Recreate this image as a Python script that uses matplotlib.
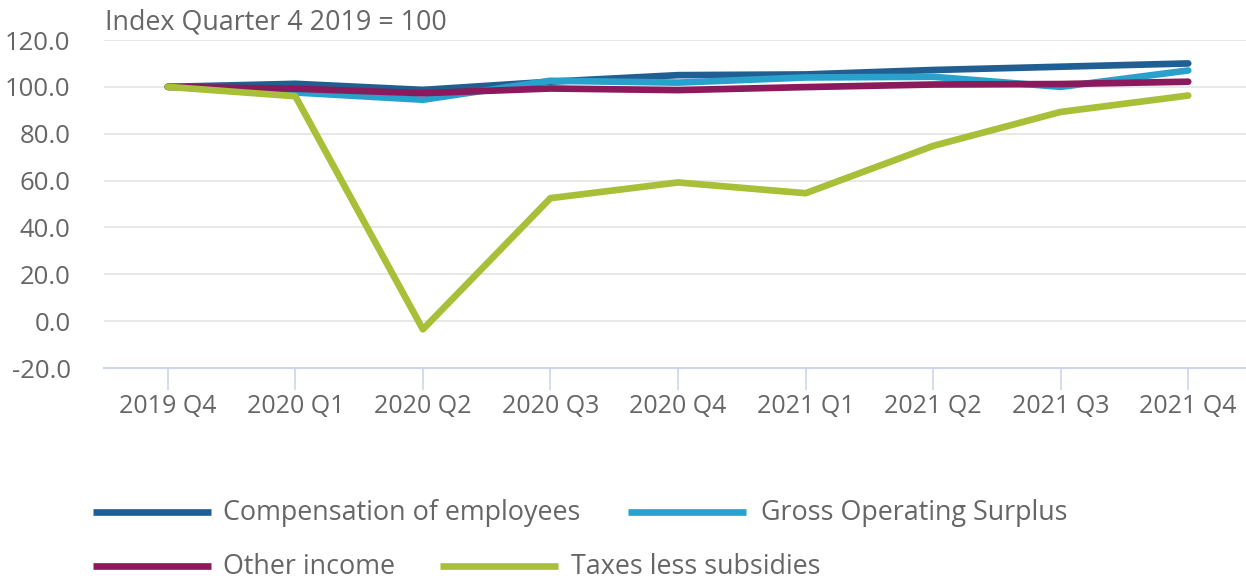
import matplotlib.pyplot as plt
from matplotlib.lines import Line2D

quarters = ['2019 Q4', '2020 Q1', '2020 Q2', '2020 Q3', '2020 Q4',
            '2021 Q1', '2021 Q2', '2021 Q3', '2021 Q4']
compensation = [100.0, 101.3, 98.7, 102.2, 105.0, 105.3, 107.2, 108.6, 110.0]
gross_surplus = [100.0, 97.6, 94.5, 102.6, 101.8, 104.0, 104.3, 100.0, 107.0]
other_income = [100.0, 99.2, 97.3, 99.3, 98.6, 99.9, 101.0, 101.2, 102.2]
taxes = [100.0, 96.0, -3.5, 52.5, 59.2, 54.6, 74.8, 89.3, 96.3]

labels = ['Compensation of employees', 'Gross Operating Surplus',
          'Other income', 'Taxes less subsidies']
series = [compensation, gross_surplus, other_income, taxes]
colors = ['#215f93', '#29a1cd', '#8a1a5b', '#a8bf38']

plt.rcParams['font.family'] = ['Open Sans', 'DejaVu Sans']
txt = '#666666'

W, H = 1246, 579
fig = plt.figure(figsize=(W / 100, H / 100), dpi=100)
ax = fig.add_axes([104 / W, (H - 368) / H, (1252 - 104) / W, (368 - 40) / H])

x = range(len(quarters))
for vals, c in zip(series, colors):
    ax.plot(x, vals, color=c, lw=4.8, solid_capstyle='round', solid_joinstyle='round')

ax.set_xlim(-0.5, 8.5)
ax.set_ylim(-20, 120)
ax.set_yticks(range(-20, 121, 20))
ax.set_yticklabels([f'{v:.1f}' for v in range(-20, 121, 20)])
ax.set_xticks(list(x))
ax.set_xticklabels(quarters)
ax.grid(axis='y', color='#e6e6e6', lw=1.3)
ax.set_axisbelow(True)
for s in ['top', 'right', 'left']:
    ax.spines[s].set_visible(False)
ax.spines['bottom'].set_color('#ccd6eb')
ax.spines['bottom'].set_linewidth(1.5)
ax.tick_params(axis='y', length=0, pad=24, labelsize=18.5, labelcolor=txt)
ax.tick_params(axis='x', length=16, width=1.2, color='#ccd6eb', pad=3,
               labelsize=18, labelcolor=txt)

fig.text(105 / W, 1 - 22 / H, 'Index Quarter 4 2019 = 100', fontsize=19.4,
         color=txt, va='center', ha='left')

# legend drawn by hand to match the flowing layout
leg_pos = [(93, 211, 223, 512), (628, 746, 761, 512),
           (93, 211, 223, 566), (440, 558, 571, 566)]
for (x0, x1, tx, yy), lab, c in zip(leg_pos, labels, colors):
    fig.add_artist(Line2D([x0 / W, x1 / W], [1 - yy / H, 1 - yy / H],
                          color=c, lw=4.8, solid_capstyle='butt',
                          transform=fig.transFigure))
    fig.text(tx / W, 1 - (yy + 1) / H, lab, fontsize=19.4, color=txt,
             va='center', ha='left')

fig.savefig('out.png', dpi=100)
